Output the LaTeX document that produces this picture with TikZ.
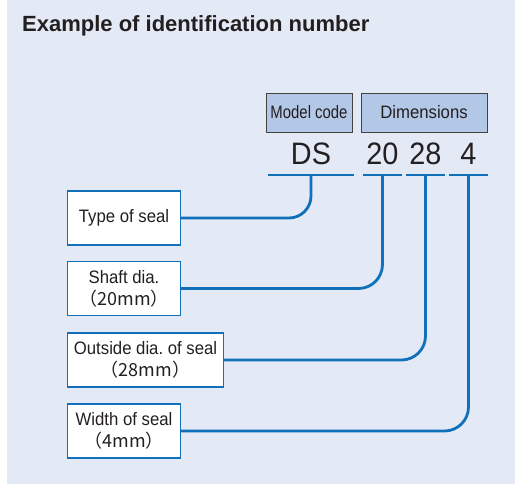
\documentclass[tikz,border=0pt]{standalone}
\usepackage{fontspec}
\setmainfont{Liberation Sans}
\newfontfamily\narrowfont{Liberation Sans}[FakeStretch=0.93]
\newfontfamily\cjk{Noto Sans CJK JP}
\usetikzlibrary{positioning}

\definecolor{panel}{HTML}{E3E9F5}
\definecolor{headfill}{HTML}{B3C7E6}
\definecolor{linkblue}{HTML}{1170BA}
\definecolor{inkgray}{HTML}{231F20}

\begin{document}
\begin{tikzpicture}[
    x=1pt, y=-1pt,
    text=inkgray,
    head node/.style={draw=inkgray!85,line width=0.8pt,fill=headfill,minimum height=39pt,inner sep=0pt,font=\narrowfont\fontsize{18}{20}\selectfont},
    code node/.style={anchor=base,inner sep=0pt,text depth=0pt,font=\narrowfont\fontsize{31}{32}\selectfont},
    label node/.style={draw=linkblue,line width=1.1pt,fill=white,anchor=west,minimum width=113pt,minimum height=54pt,inner xsep=5pt,inner ysep=2pt,align=center,font=\narrowfont\fontsize{18}{22}\selectfont},
    underline/.style={draw=linkblue,line width=2.8pt},
    link/.style={draw=linkblue,line width=2.8pt,rounded corners=24pt}]

  \useasboundingbox (0,0) rectangle (515,484);
  \fill[panel] (7,0) rectangle (515,484);

  \node[anchor=base west,inner sep=0pt,font=\fontsize{22}{24}\selectfont\bfseries] (title) at (22,32) {Example of identification number};

  % header boxes
  \node[head node,minimum width=86pt] (model) at (309,112.5) {\scalebox{0.89}[1]{Model code}};
  \node[head node,minimum width=126pt] (dims) at (424,112.5) {Dimensions};

  % code parts
  \node[code node,minimum width=86pt] (DS) at (311,165) {DS};
  \node[code node,minimum width=39pt] (n20) at (382.5,165) {20};
  \node[code node,minimum width=39pt] (n28) at (425.5,165) {28};
  \node[code node,minimum width=39pt] (n4) at (468.5,165) {4};

  \foreach \part in {DS,n20,n28,n4}
    \draw[underline] ([yshift=-10pt]\part.base west) -- ([yshift=-10pt]\part.base east);

  % explanations
  \node[label node] (type) at (67,218) {Type of seal};
  \node[label node] (shaft) at (67,288.5) {Shaft dia.\\\cjk{（}20mm\cjk{）}};
  \node[label node,minimum width=156pt] (outside) at (67,360) {Outside dia.\ of seal\\\cjk{（}28mm\cjk{）}};
  \node[label node] (width) at (67,431) {Width of seal\\\cjk{（}4mm\cjk{）}};

  \draw[link,rounded corners=22pt] ([yshift=-10pt]DS.base) |- (type.east);
  \draw[link] ([yshift=-10pt]n20.base) |- (shaft.east);
  \draw[link] ([yshift=-10pt]n28.base) |- (outside.east);
  \draw[link] ([yshift=-10pt]n4.base) |- (width.east);
\end{tikzpicture}
\end{document}
